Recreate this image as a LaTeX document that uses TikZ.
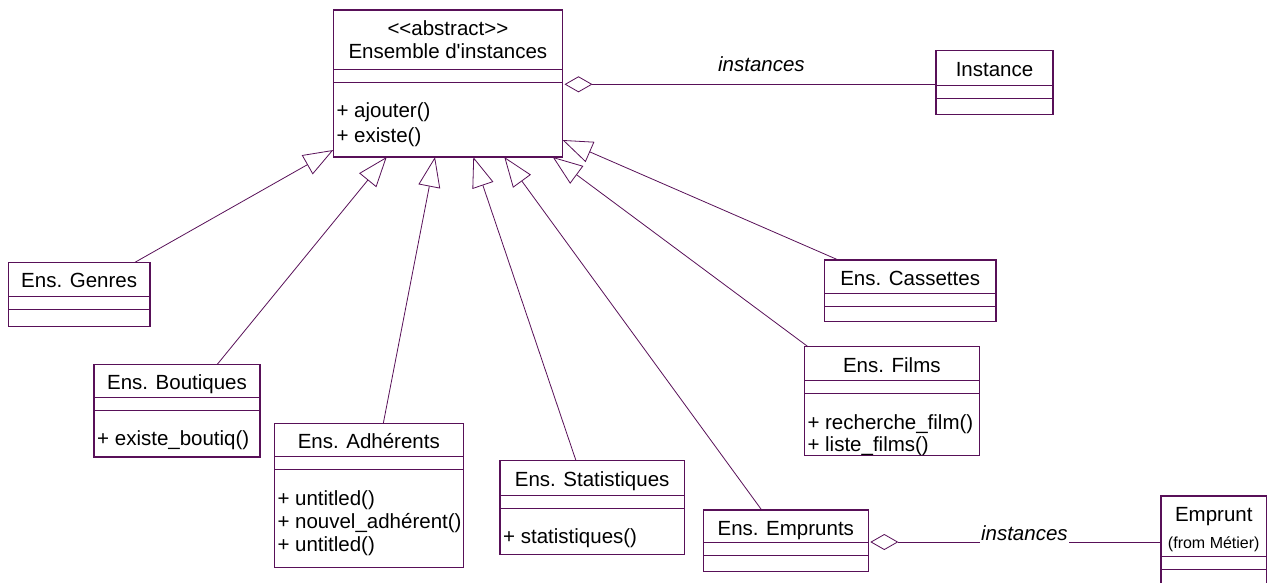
\documentclass[tikz,border=0pt]{standalone}
\usepackage{fontspec}
\setmainfont{Liberation Sans}[Ligatures=TeXOff]
\usetikzlibrary{arrows.meta}

\definecolor{umlline}{RGB}{88,16,88}
\newcommand{\umlfont}{\fontsize{20.5}{23}\selectfont}

% #1 name, #2 top left corner, #3 width, #4 name part, #5 operation part,
% #6 class name, #7 operations
\newcommand{\umlclass}[7]{%
  \node[classbox, minimum width=#3, minimum height=#4+13+#5] (#1) at #2 {};
  \draw[umlline, line width=1pt]
    ([yshift=-#4]#1.north west) -- ([yshift=-#4]#1.north east)
    ([yshift=-#4-13]#1.north west) -- ([yshift=-#4-13]#1.north east);
  \node[anchor=base, inner sep=0pt] (#1-name) at ([yshift=-25.6]#1.north)
    {\begin{tabular}[t]{@{}c@{}}#6\end{tabular}};
  \if\relax\detokenize{#7}\relax\else
    \node[anchor=base west, inner sep=0pt] (#1-ops) at ([xshift=3, yshift=-#4-48.3]#1.north west)
      {\begin{tabular}[t]{@{}l@{}}#7\end{tabular}};
  \fi
}

\begin{document}
\begin{tikzpicture}[x=1pt, y=-1pt, font=\umlfont,
    classbox/.style={draw=umlline, line width=1.1pt, fill=white, anchor=north west,
                     inner sep=0pt, outer sep=0pt},
    inherit/.style={draw=umlline, line width=0.8pt,
                    -{Triangle[length=30pt, width=22pt, fill=white]}},
    aggr/.style={draw=umlline, line width=0.8pt,
                 {Diamond[length=28pt, width=16pt, fill=white]}-}]
  \useasboundingbox (0,0) rectangle (1273,582);
  \clip (0,0) rectangle (1273,582);

  % classes
  \umlclass{main}{(333.3,10)}{229.2}{59}{75}{<<abstract>>\\Ensemble d'instances}
    {+ ajouter()\\[2pt]+ existe()}
  \umlclass{inst}{(936,50.7)}{117}{35}{15.7}{Instance}{}
  \umlclass{genres}{(8.3,262.3)}{141.7}{34.4}{16.4}{Ens. Genres}{}
  \umlclass{boutiques}{(94,364.3)}{166}{33}{46.7}{Ens. Boutiques}{+ existe\_boutiq()}
  \umlclass{adherents}{(274.3,423.3)}{189}{33.4}{97.4}{Ens. Adhérents}
    {+ untitled()\\+ nouvel\_adhérent()\\+ untitled()}
  \umlclass{stats}{(500,460.7)}{184.3}{34.3}{46.3}{Ens. Statistiques}{+ statistiques()}
  \umlclass{emprunts}{(703.3,510)}{165}{32.7}{15.7}{Ens. Emprunts}{}
  \umlclass{cassettes}{(824.3,260)}{171.7}{33.3}{15}{Ens. Cassettes}{}
  \umlclass{films}{(804.3,346.7)}{175}{34}{61.7}{Ens. Films}
    {+ recherche\_film()\\[-1pt]+ liste\_films()}
  \umlclass{emprunt}{(1161,496)}{105.5}{60}{40}
    {Emprunt\\[4pt]{\fontsize{16}{18}\selectfont (from Métier)}}{}

  % generalisations
  \foreach \cls/\dx/\tx in {boutiques/123.3/53.4, adherents/109/101.7, stats/76/140,
                            emprunts/58.4/171, films/3.7/219.4}
    \draw[inherit] ([xshift=\dx]\cls.north west) -- ([xshift=\tx]main.south west);
  \draw[inherit] ([xshift=126.7]genres.north west) -- ([yshift=7]main.south west);
  \draw[inherit] ([xshift=14]cassettes.north west) -- ([yshift=17]main.south east);

  % aggregations
  \coordinate (agg-top) at ([xshift=2, yshift=-74.3]main.north east);
  \draw[aggr] (agg-top) -- (agg-top -| inst.west)
    node[pos=0.53, anchor=base, yshift=13.3, font=\umlfont\itshape] (lbl-top) {instances};
  \coordinate (agg-bot) at ([xshift=2, yshift=-32]emprunts.north east);
  \draw[aggr] (agg-bot) -- (agg-bot -| emprunt.west)
    node[pos=0.53, anchor=base, yshift=1.7, fill=white, inner xsep=1.5pt, inner ysep=3pt,
         font=\umlfont\itshape] (lbl-bot) {instances};
\end{tikzpicture}
\end{document}
